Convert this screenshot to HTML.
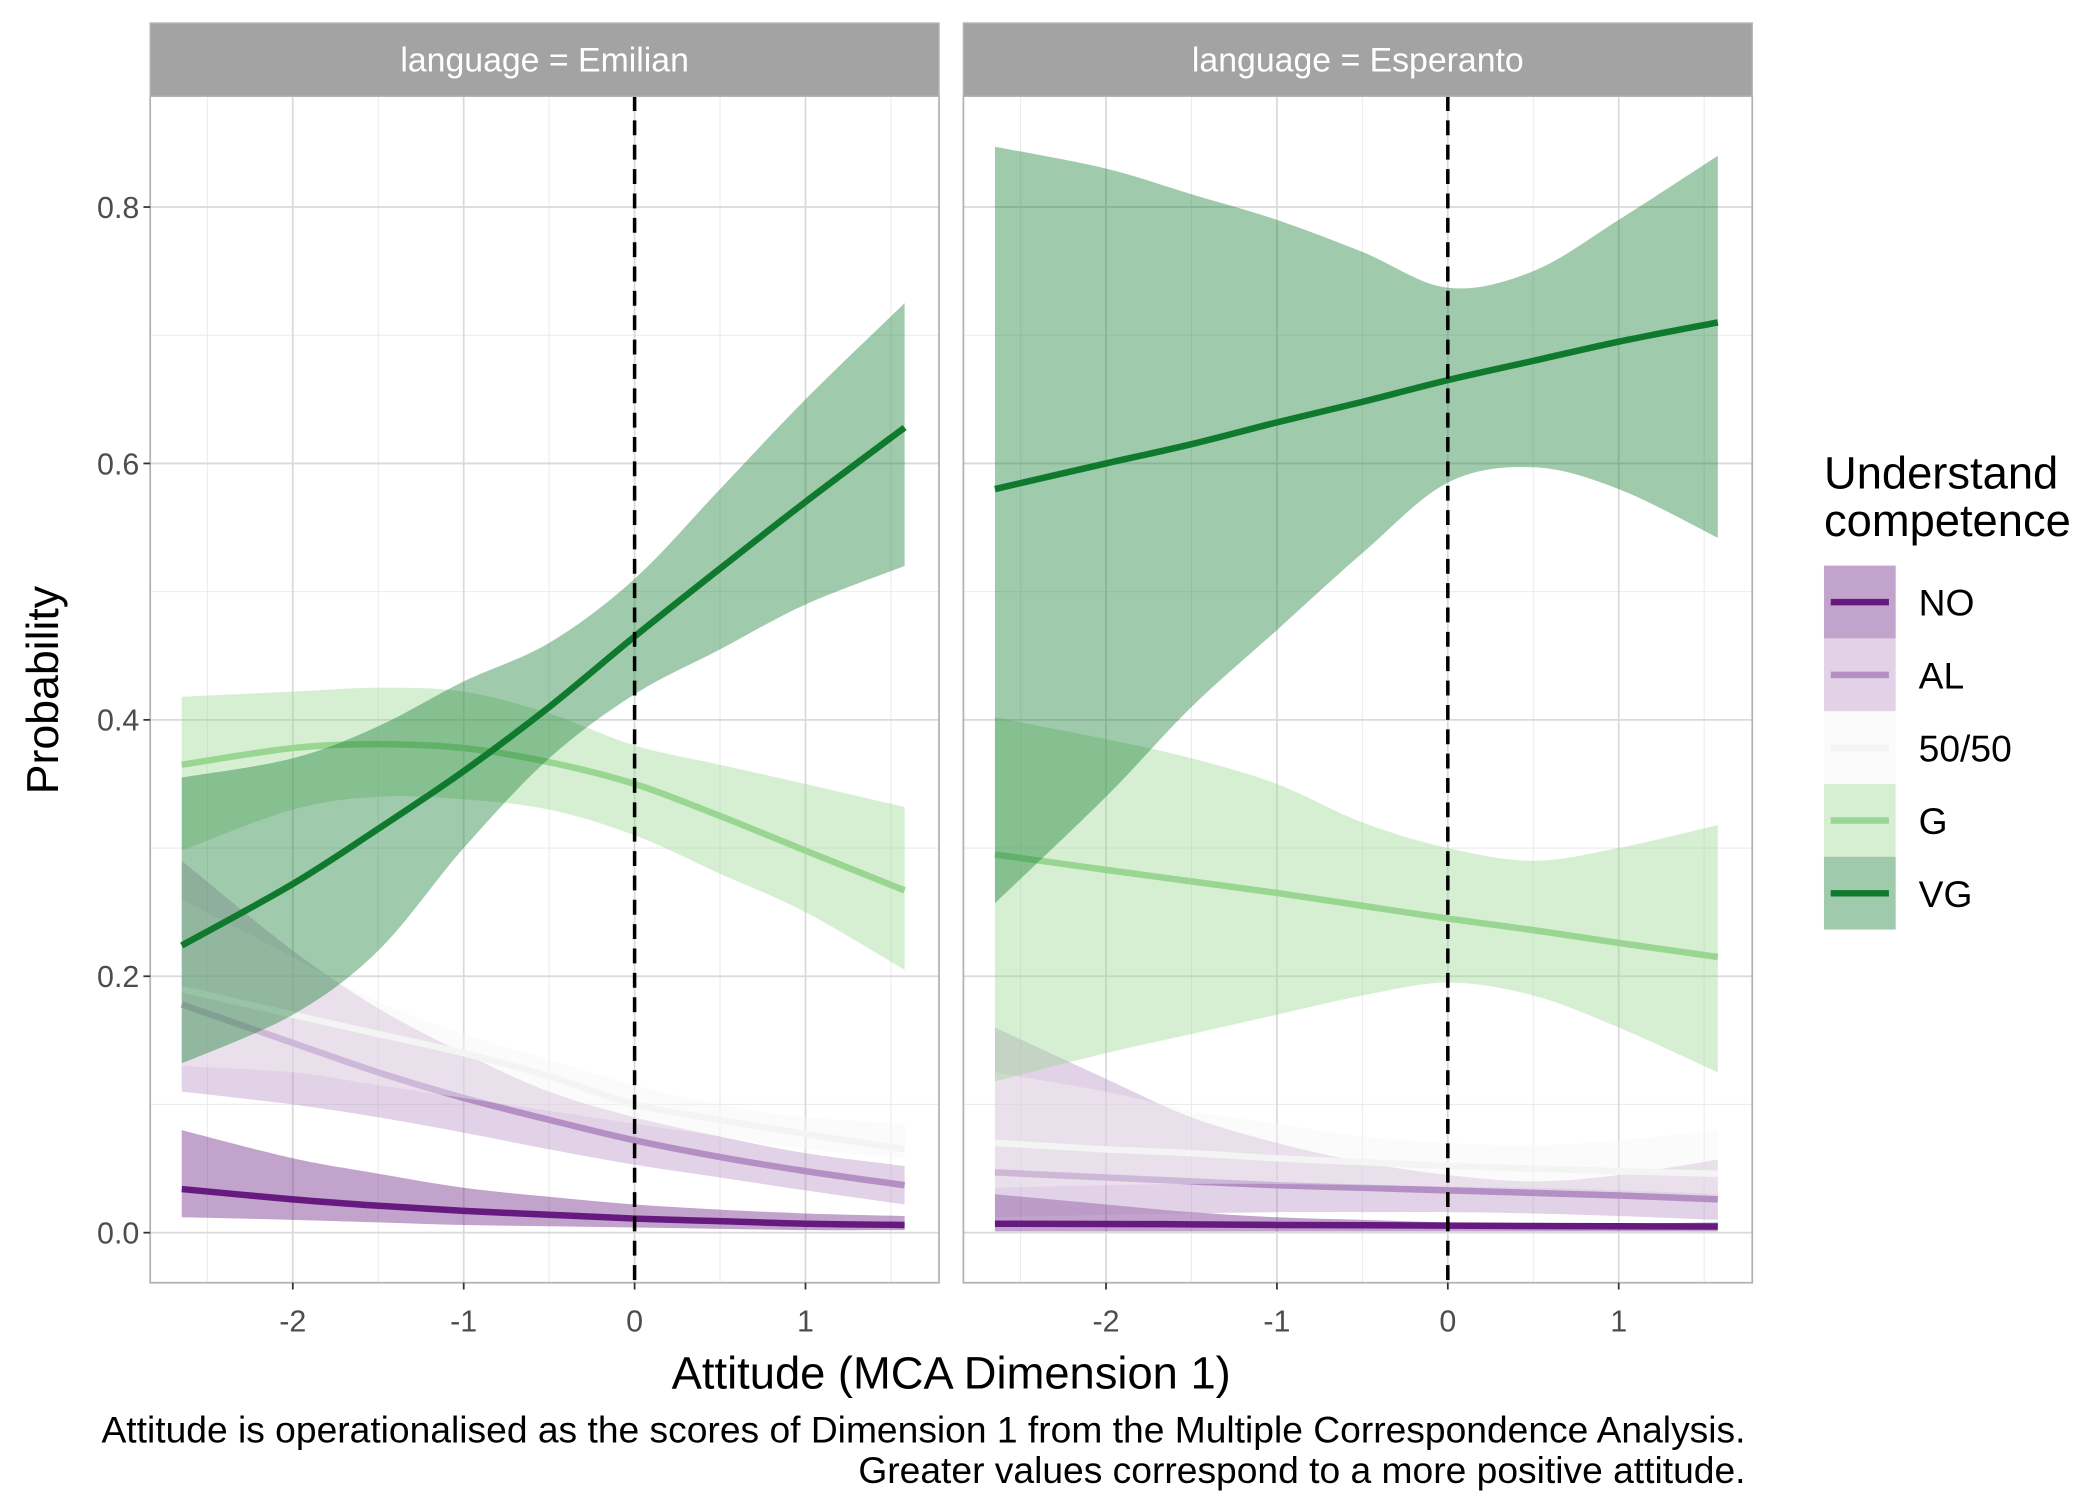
<!DOCTYPE html>
<html><head><meta charset="utf-8"><style>
html,body{margin:0;padding:0;background:#fff;}
svg{display:block;font-family:"Liberation Sans",sans-serif;}
</style></head><body>
<svg id="chart" width="2100" height="1500" viewBox="0 0 1552 1108.57"></svg>
<script>
const xs = [-2.65,-2,-1.5,-1,-0.5,0,0.5,1,1.58];
const groups = ["NO","AL","50/50","G","VG"];
const lineColors = ["#661a80","#b48fc4","#f4f4f4","#99d691","#0f7a2e"];
const yTicks = [0,0.2,0.4,0.6,0.8];
const yTickLabels = ["0.0","0.2","0.4","0.6","0.8"];
const xTicks = [-2,-1,0,1];
const xTickLabels = ["-2","-1","0","1"];
const panels = ["language = Emilian","language = Esperanto"];
// Emilian
const emNOfit = [0.034,0.026,0.021,0.017,0.014,0.011,0.009,0.007,0.006];
const emNOlo = [0.012,0.01,0.008,0.006,0.005,0.004,0.003,0.002,0.002];
const emNOhi = [0.08,0.058,0.046,0.035,0.028,0.022,0.018,0.015,0.013];
const emALfit = [0.178,0.148,0.125,0.105,0.088,0.072,0.059,0.048,0.037];
const emALlo = [0.11,0.1,0.09,0.078,0.065,0.053,0.043,0.033,0.022];
const emALhi = [0.29,0.22,0.175,0.14,0.11,0.09,0.075,0.062,0.052];
const em50fit = [0.19,0.17,0.155,0.14,0.122,0.1,0.088,0.077,0.065];
const em50lo = [0.13,0.125,0.115,0.105,0.095,0.085,0.075,0.065,0.058];
const em50hi = [0.26,0.215,0.18,0.155,0.135,0.115,0.1,0.09,0.085];
const emGfit = [0.365,0.378,0.381,0.378,0.367,0.35,0.325,0.298,0.267];
const emGlo = [0.298,0.33,0.34,0.338,0.33,0.31,0.28,0.25,0.205];
const emGhi = [0.418,0.422,0.425,0.422,0.405,0.38,0.365,0.35,0.332];
const emVGfit = [0.224,0.272,0.315,0.36,0.41,0.465,0.518,0.57,0.628];
const emVGlo = [0.132,0.17,0.22,0.3,0.37,0.42,0.455,0.49,0.52];
const emVGhi = [0.355,0.37,0.395,0.43,0.46,0.51,0.58,0.65,0.725];
// Esperanto
const esNOfit = [0.007,0.0068,0.0065,0.006,0.0058,0.0055,0.0052,0.005,0.0048];
const esNOlo = [0.001,0.001,0.001,0.001,0.001,0.001,0.001,0.001,0.001];
const esNOhi = [0.03,0.022,0.016,0.012,0.01,0.008,0.007,0.007,0.008];
const esALfit = [0.047,0.043,0.04,0.037,0.035,0.033,0.031,0.029,0.026];
const esALlo = [0.012,0.014,0.015,0.016,0.016,0.016,0.015,0.013,0.01];
const esALhi = [0.16,0.12,0.09,0.07,0.055,0.045,0.04,0.045,0.057];
const es50fit = [0.07,0.065,0.062,0.058,0.055,0.052,0.05,0.048,0.046];
const es50lo = [0.035,0.037,0.038,0.038,0.037,0.036,0.035,0.033,0.03];
const es50hi = [0.125,0.11,0.095,0.085,0.075,0.07,0.068,0.072,0.08];
const esGfit = [0.295,0.283,0.274,0.265,0.255,0.245,0.236,0.226,0.215];
const esGlo = [0.118,0.14,0.155,0.17,0.185,0.195,0.185,0.16,0.125];
const esGhi = [0.402,0.385,0.37,0.35,0.32,0.3,0.29,0.3,0.318];
const esVGfit = [0.58,0.6,0.615,0.632,0.648,0.665,0.68,0.695,0.71];
const esVGlo = [0.257,0.34,0.41,0.47,0.53,0.585,0.597,0.58,0.542];
const esVGhi = [0.847,0.83,0.81,0.79,0.765,0.737,0.75,0.79,0.84];

const data = [
 [[emNOfit,emNOlo,emNOhi],[emALfit,emALlo,emALhi],[em50fit,em50lo,em50hi],[emGfit,emGlo,emGhi],[emVGfit,emVGlo,emVGhi]],
 [[esNOfit,esNOlo,esNOhi],[esALfit,esALlo,esALhi],[es50fit,es50lo,es50hi],[esGfit,esGlo,esGhi],[esVGfit,esVGlo,esVGhi]]
];

(function(){
const svg = document.getElementById('chart');
const NS = 'http://www.w3.org/2000/svg';
function mk(tag, attrs, parent){const e=document.createElementNS(NS,tag);for(const k in attrs)e.setAttribute(k,attrs[k]);(parent||svg).appendChild(e);return e;}
// Catmull-Rom smoothed segment through points (without initial M)
function smooth(pts){
  let d='';
  for(let i=0;i<pts.length-1;i++){
    const p0=pts[Math.max(0,i-1)],p1=pts[i],p2=pts[i+1],p3=pts[Math.min(pts.length-1,i+2)];
    const c1=[p1[0]+(p2[0]-p0[0])/6,p1[1]+(p2[1]-p0[1])/6];
    const c2=[p2[0]-(p3[0]-p1[0])/6,p2[1]-(p3[1]-p1[1])/6];
    d+='C'+c1[0]+','+c1[1]+' '+c2[0]+','+c2[1]+' '+p2[0]+','+p2[1];
  }
  return d;
}

const panelX = [111,712], panelW = 583, pTop = 71, pBottom = 948;
const y = v => 911 - v*947.5;
const unit = 126.3;
const zeroOff = 358;

panels.forEach((title,p)=>{
  const L = panelX[p];
  const x = v => L + zeroOff + v*unit;
  const g = mk('g',{});
  
  
  mk('rect',{x:L,y:pTop,width:panelW,height:pBottom-pTop,fill:'#fff'},g);
  [0.1,0.3,0.5,0.7].forEach(v=>mk('line',{x1:L,x2:L+panelW,y1:y(v),y2:y(v),stroke:'#ebebeb','stroke-width':0.8},g));
  [-2.5,-1.5,-0.5,0.5,1.5].forEach(v=>mk('line',{x1:x(v),x2:x(v),y1:pTop,y2:pBottom,stroke:'#ebebeb','stroke-width':0.8},g));
  yTicks.forEach(v=>mk('line',{x1:L,x2:L+panelW,y1:y(v),y2:y(v),stroke:'#dadada','stroke-width':1.3},g));
  xTicks.forEach(v=>mk('line',{x1:x(v),x2:x(v),y1:pTop,y2:pBottom,stroke:'#dadada','stroke-width':1.3},g));
  data[p].forEach((s,i)=>{
    const [fit,lo,hi]=s;
    const hp = xs.map((v,j)=>[x(v),y(hi[j])]);
    const lp = xs.map((v,j)=>[x(v),y(lo[j])]).reverse();
    const d = 'M'+hp[0][0]+','+hp[0][1]+smooth(hp)+'L'+lp[0][0]+','+lp[0][1]+smooth(lp)+'Z';
    const band = mk('path',{d:d,fill:lineColors[i],'fill-opacity':0.4},g);
    
    
    const fp = xs.map((v,j)=>[x(v),y(fit[j])]);
    const ln = mk('path',{d:'M'+fp[0][0]+','+fp[0][1]+smooth(fp),fill:'none',stroke:lineColors[i],'stroke-width':4.8},g);
    
    
  });
  const dl = mk('line',{x1:x(0),x2:x(0),y1:pTop,y2:pBottom,stroke:'#000','stroke-width':2.6,'stroke-dasharray':'11,7'},g);
  
  
  mk('rect',{x:L,y:pTop,width:panelW,height:pBottom-pTop,fill:'none',stroke:'#b3b3b3','stroke-width':1.3},g);
  const st = mk('rect',{x:L,y:17,width:panelW,height:54,fill:'#a3a3a3',stroke:'#b3b3b3','stroke-width':1},g);
  
  
  const stt = mk('text',{x:L+panelW/2,y:53,'text-anchor':'middle','font-size':25,fill:'#fff'},g);
  stt.textContent = title;
  
  
  xTicks.forEach((v,k)=>{
    mk('line',{x1:x(v),x2:x(v),y1:pBottom,y2:pBottom+5,stroke:'#333','stroke-width':1.3},g);
    const t = mk('text',{x:x(v),y:984,'text-anchor':'middle','font-size':22.5,fill:'#4d4d4d'},g);
    t.textContent = xTickLabels[k];
    
    
  });
});
yTicks.forEach((v,k)=>{
  mk('line',{x1:106,x2:111,y1:y(v),y2:y(v),stroke:'#333','stroke-width':1.3});
  const t = mk('text',{x:103,y:y(v)+8,'text-anchor':'end','font-size':22.5,fill:'#4d4d4d'});
  t.textContent = yTickLabels[k];
  
  
});
})();
</script>
<script>
(function(){
const svg = document.getElementById('chart');
const NS='http://www.w3.org/2000/svg';
function mk(tag,a){const e=document.createElementNS(NS,tag);for(const k in a)e.setAttribute(k,a[k]);svg.appendChild(e);return e;}
const xt = mk('text',{x:703,y:1026,'text-anchor':'middle','font-size':33.5,fill:'#000'});
xt.textContent='Attitude (MCA Dimension 1)';


const yt = mk('text',{x:0,y:0,'text-anchor':'middle','font-size':33,fill:'#000',transform:'translate(43,510) rotate(-90)'});
yt.textContent='Probability';


const c1 = mk('text',{x:1290,y:1066,'text-anchor':'end','font-size':27.5,fill:'#000'});
c1.textContent='Attitude is operationalised as the scores of Dimension 1 from the Multiple Correspondence Analysis.';


const c2 = mk('text',{x:1290,y:1096,'text-anchor':'end','font-size':27.5,fill:'#000'});
c2.textContent='Greater values correspond to a more positive attitude.';


const l1 = mk('text',{x:1348,y:361,'font-size':33.5,fill:'#000'});
l1.textContent='Understand';


const l2 = mk('text',{x:1348,y:396,'font-size':33.5,fill:'#000'});
l2.textContent='competence';


const labs=["NO","AL","50/50","G","VG"];
const cols=["#661a80","#b48fc4","#f4f4f4","#99d691","#0f7a2e"];
labs.forEach((lb,i)=>{
  const y0 = 418 + i*53.8;
  const r = mk('rect',{x:1348,y:y0,width:53,height:53.8,fill:cols[i],'fill-opacity':0.4});
  
  
  mk('line',{x1:1353,x2:1396,y1:y0+27,y2:y0+27,stroke:cols[i],'stroke-width':4.8});
  const t = mk('text',{x:1418,y:y0+37,'font-size':27.5,fill:'#000'});
  t.textContent=lb;
  
  
});
})();
</script>
</body></html>
